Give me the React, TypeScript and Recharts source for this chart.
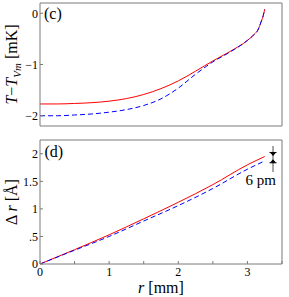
import React from 'react';
import { LineChart, Line, XAxis, YAxis, ReferenceLine, ReferenceDot } from 'recharts';

const FONT = "'Liberation Serif', 'Times New Roman', Times, serif";
const FRAME = '#7a7a7a';

// panel (c): temperature difference
const rC = [0, 0.25, 0.5, 0.75, 1.0, 1.25, 1.5, 1.75, 2.0, 2.25, 2.5, 2.75, 3.0, 3.1, 3.15, 3.2, 3.23, 3.25];
const tRed = [-1.77, -1.77, -1.76, -1.745, -1.715, -1.665, -1.585, -1.47, -1.32, -1.13, -0.93, -0.745, -0.53, -0.41, -0.33, -0.16, -0.04, 0.08];
const tBlue = [-2.0, -2.0, -1.985, -1.965, -1.93, -1.88, -1.8, -1.67, -1.46, -1.19, -0.95, -0.755, -0.53, -0.41, -0.33, -0.16, -0.04, 0.08];

// panel (d): radius shift
const rD = [0, 0.5, 1.0, 1.5, 2.0, 2.5, 3.0, 3.25];
const dRed = [0, 0.26, 0.53, 0.82, 1.12, 1.44, 1.8, 1.95];
const dBlue = [0, 0.25, 0.5, 0.78, 1.06, 1.37, 1.72, 1.87];

const xTicks = [0, 0.5, 1, 1.5, 2, 2.5, 3, 3.5];
const yTicksC = [-2, -1, 0];
const yTicksD = [0, 0.5, 1, 1.5, 2];

// annotation values
const annX = 3.37;
const annTop = 2.14;
const annBottom = 1.67;
const arrowRed = 1.96;
const arrowBlue = 1.9;

const dataC = rC.map((r, i) => ({ r, red: tRed[i], blue: tBlue[i] }));
const dataD = rD.map((r, i) => ({ r, red: dRed[i], blue: dBlue[i] }));

const tickStyle = { fontSize: 12, fill: '#000', fontFamily: FONT, style: { fontFamily: FONT } };
const txt = { fontFamily: FONT };

const fmtC = (v: number) => (v < 0 ? '\u2212' + Math.abs(v) : String(v));
const fmtD = (v: number) => (v === 0.5 ? '.5' : String(v));
const fmtX = (v: number) => (Number.isInteger(v) ? String(v) : '');

const YLabelC = (props: any) => {
  const vb = props.viewBox || {};
  const cx = (vb.x || 0) + 17;
  const cy = vb.y + vb.height / 2;
  return (
    <text transform={`rotate(-90, ${cx}, ${cy})`} x={cx} y={cy} textAnchor="middle" fontSize={16} style={txt} fill="#000">
      <tspan fontStyle="italic">T</tspan>
      <tspan>{'\u2212'}</tspan>
      <tspan fontStyle="italic">T</tspan>
      <tspan fontStyle="italic" fontSize={11} dy={4}>Vm</tspan>
      <tspan dy={-4}> [mK]</tspan>
    </text>
  );
};

const YLabelD = (props: any) => {
  const vb = props.viewBox || {};
  const cx = (vb.x || 0) + 17;
  const cy = vb.y + vb.height / 2;
  return (
    <text transform={`rotate(-90, ${cx}, ${cy})`} x={cx} y={cy} textAnchor="middle" fontSize={16} style={txt} fill="#000">
      <tspan>{'\u0394 '}</tspan>
      <tspan fontStyle="italic">r</tspan>
      <tspan> [Å]</tspan>
    </text>
  );
};

const XLabel = (props: any) => {
  const vb = props.viewBox || {};
  return (
    <text x={vb.x + vb.width / 2} y={vb.y + 28.5} textAnchor="middle" fontSize={16} style={txt} fill="#000">
      <tspan fontStyle="italic">r</tspan>
      <tspan> [mm]</tspan>
    </text>
  );
};

const DownArrow = (p: any) => {
  const { cx, cy } = p;
  return (
    <g>
      <path d={`M${cx - 3},${cy - 3.5} L${cx + 3},${cy - 3.5} L${cx},${cy} Z`} fill="#000" />
      <line x1={cx - 3.5} x2={cx + 3.5} y1={cy - 3.5} y2={cy - 3.5} stroke="#000" strokeWidth={1} />
    </g>
  );
};

const UpArrow = (p: any) => {
  const { cx, cy } = p;
  return (
    <g>
      <path d={`M${cx - 3},${cy + 3.5} L${cx + 3},${cy + 3.5} L${cx},${cy} Z`} fill="#000" />
      <line x1={cx - 3.5} x2={cx + 3.5} y1={cy + 3.5} y2={cy + 3.5} stroke="#000" strokeWidth={1} />
    </g>
  );
};

export default function App() {
  return (
    <div style={{ position: 'absolute', left: 0, top: 0, width: 289, height: 297, background: '#fff', fontFamily: FONT }}>
      <div style={{ position: 'absolute', left: 0, top: 0 }}>
        <LineChart width={289} height={130} data={dataC} margin={{ top: 2, right: 6, bottom: 0, left: 0 }}>
          <XAxis xAxisId="b" type="number" dataKey="r" domain={[0, 3.5]} ticks={xTicks} allowDataOverflow
            tickSize={-3} tick={false} height={4} stroke={FRAME} />
          <XAxis xAxisId="t" orientation="top" type="number" dataKey="r" domain={[0, 3.5]} ticks={xTicks} allowDataOverflow
            tickSize={-3} tick={false} height={1} stroke={FRAME} />
          <YAxis yAxisId="l" type="number" domain={[-2.2, 0.2]} ticks={yTicksC} allowDataOverflow
            tickSize={-3} tickMargin={5} width={40} stroke={FRAME} tick={tickStyle} tickFormatter={fmtC}
            label={{ content: YLabelC }} />
          <YAxis yAxisId="r" orientation="right" type="number" domain={[-2.2, 0.2]} ticks={yTicksC} allowDataOverflow
            tickSize={-3} tick={false} width={1} stroke={FRAME} />
          <Line xAxisId="b" yAxisId="l" type="monotone" dataKey="red" stroke="#ff0000" strokeWidth={1} dot={false} activeDot={false} isAnimationActive={false} />
          <Line xAxisId="b" yAxisId="l" type="monotone" dataKey="blue" stroke="#0000ff" strokeWidth={1} strokeDasharray="5 3" dot={false} activeDot={false} isAnimationActive={false} />
        </LineChart>
      </div>
      <div style={{ position: 'absolute', left: 0, top: 130 }}>
        <LineChart width={289} height={167} data={dataD} margin={{ top: 9, right: 6, bottom: 0, left: 0 }}>
          <XAxis xAxisId="b" type="number" dataKey="r" domain={[0, 3.5]} ticks={xTicks} allowDataOverflow
            tickSize={-3} tickMargin={6} height={33} stroke={FRAME} tick={tickStyle} tickFormatter={fmtX}
            label={{ content: XLabel }} />
          <XAxis xAxisId="t" orientation="top" type="number" dataKey="r" domain={[0, 3.5]} ticks={xTicks} allowDataOverflow
            tickSize={-3} tick={false} height={1} stroke={FRAME} />
          <YAxis yAxisId="l" type="number" domain={[0, 2.25]} ticks={yTicksD} allowDataOverflow
            tickSize={-3} tickMargin={5} width={40} stroke={FRAME} tick={tickStyle} tickFormatter={fmtD}
            label={{ content: YLabelD }} />
          <YAxis yAxisId="r" orientation="right" type="number" domain={[0, 2.25]} ticks={yTicksD} allowDataOverflow
            tickSize={-3} tick={false} width={1} stroke={FRAME} />
          <Line xAxisId="b" yAxisId="l" type="monotone" dataKey="red" stroke="#ff0000" strokeWidth={1} dot={false} activeDot={false} isAnimationActive={false} />
          <Line xAxisId="b" yAxisId="l" type="monotone" dataKey="blue" stroke="#0000ff" strokeWidth={1} strokeDasharray="5 3" dot={false} activeDot={false} isAnimationActive={false} />
          <ReferenceLine xAxisId="b" yAxisId="l" segment={[{ x: annX, y: annTop }, { x: annX, y: annBottom }]} stroke="#8a8a8a" strokeWidth={1.5} ifOverflow="visible" />
          <ReferenceDot xAxisId="b" yAxisId="l" x={annX} y={arrowRed} shape={DownArrow} ifOverflow="visible" />
          <ReferenceDot xAxisId="b" yAxisId="l" x={annX} y={arrowBlue} shape={UpArrow} ifOverflow="visible" />
        </LineChart>
      </div>
      <svg width={289} height={297} style={{ position: 'absolute', left: 0, top: 0, pointerEvents: 'none' }}>
        <text x={44} y={19} fontSize={16} style={txt} fill="#000">(c)</text>
        <text x={44.5} y={157} fontSize={16} style={txt} fill="#000">(d)</text>
        <text x={276} y={185} textAnchor="end" fontSize={15} style={txt} fill="#000">6 pm</text>
      </svg>
    </div>
  );
}
